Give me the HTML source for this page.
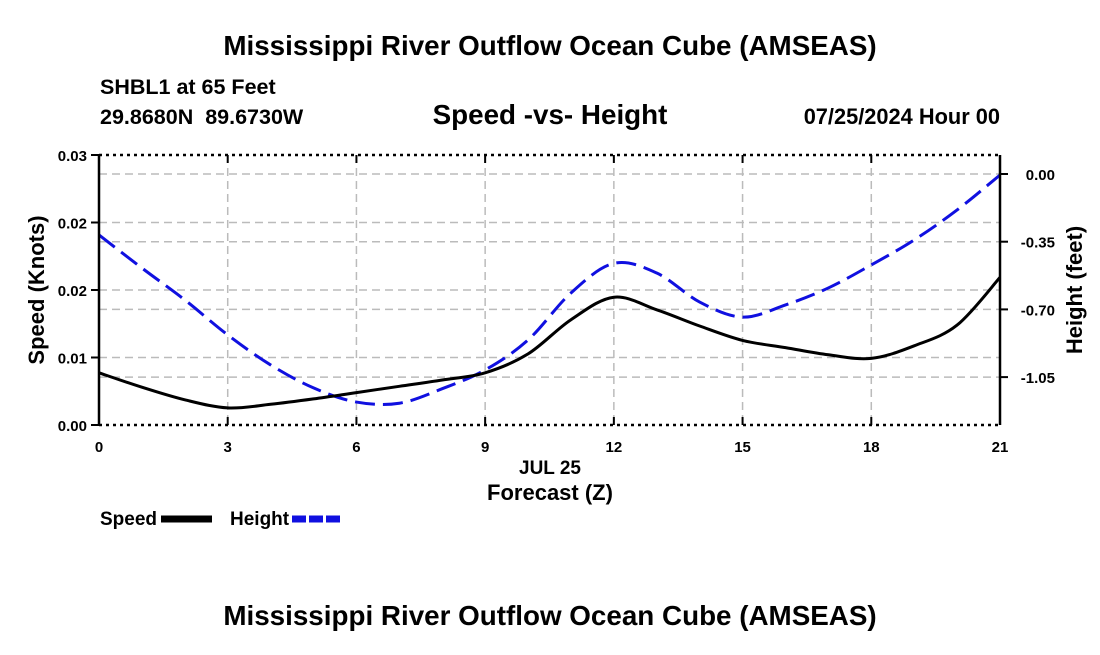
<!DOCTYPE html>
<html><head><meta charset="utf-8"><style>
body{margin:0;background:#fff;}
svg text{font-family:"Liberation Sans",sans-serif;font-weight:bold;fill:#000;}
</style></head><body>
<svg id="c" width="1100" height="650" xmlns="http://www.w3.org/2000/svg">
<text x="550" y="55" font-size="27.8" text-anchor="middle">Mississippi River Outflow Ocean Cube (AMSEAS)</text>
<text x="100" y="94" font-size="21.5">SHBL1 at 65 Feet</text>
<text x="100" y="124" font-size="21.5">29.8680N&#160;&#160;89.6730W</text>
<text x="550" y="124" font-size="27.8" text-anchor="middle">Speed -vs- Height</text>
<text x="1000" y="124" font-size="21.8" text-anchor="end">07/25/2024 Hour 00</text>
<g id="grid"></g>
<g id="marks"></g>
<g id="axes"></g>
<text x="550" y="474" font-size="19" text-anchor="middle">JUL 25</text>
<text x="550" y="500" font-size="22" text-anchor="middle">Forecast (Z)</text>
<text transform="translate(44,290) rotate(-90)" font-size="22" text-anchor="middle">Speed (Knots)</text>
<text transform="translate(1082,290) rotate(-90)" font-size="22" text-anchor="middle">Height (feet)</text>
<g>
<text x="100" y="525" font-size="19">Speed</text>
<line x1="161" y1="519" x2="212" y2="519" stroke="#000" stroke-width="7"/>
<text x="230" y="525" font-size="19">Height</text>
<line x1="292" y1="519" x2="342" y2="519" stroke="#1010e0" stroke-width="7" stroke-dasharray="14,3"/>
</g>
<text x="550" y="625" font-size="27.8" text-anchor="middle">Mississippi River Outflow Ocean Cube (AMSEAS)</text>
</svg>
<script>
const hours=[0,1,2,3,4,5,6,7,8,9,10,11,12,13,14,15,16,17,18,19,20,21];
const speed=[0.0058,0.0042,0.0028,0.0019,0.0023,0.0029,0.0036,0.0043,0.0050,0.0058,0.0079,0.0117,0.0142,0.0128,0.0110,0.0094,0.0086,0.0078,0.0074,0.0088,0.0111,0.0164];
const height=[-0.315,-0.486,-0.651,-0.832,-0.987,-1.106,-1.179,-1.185,-1.110,-1.013,-0.858,-0.615,-0.462,-0.512,-0.662,-0.740,-0.677,-0.589,-0.470,-0.341,-0.186,-0.005];
const xTicks=[0,3,6,9,12,15,18,21];
const leftTicks=[0,0.0075,0.015,0.0225,0.03];
const leftLabels=["0.00","0.01","0.02","0.02","0.03"];
const rightTicks=[0,-0.35,-0.70,-1.05];
const rightLabels=["0.00","-0.35","-0.70","-1.05"];
const L=99,R=1000,T=155,B=425;
const X=h=>L+(h-0)/21*(R-L);
const Y1=v=>B-(v/0.03)*(B-T);
function Yh(v){return 174+(-v)/0.35*67.7;}
const NS="http://www.w3.org/2000/svg";
function mk(p,tag,a){const e=document.createElementNS(NS,tag);for(const k in a)e.setAttribute(k,a[k]);p.appendChild(e);return e;}
const grid=document.getElementById('grid'),marks=document.getElementById('marks'),axes=document.getElementById('axes');
xTicks.forEach(h=>{if(h>0&&h<21){const l=mk(grid,'line',{x1:X(h),x2:X(h),y1:T,y2:B,stroke:'#bbb','stroke-width':1.5,'stroke-dasharray':'8,5'});

}});
leftTicks.forEach(v=>{if(v>0&&v<0.03){const l=mk(grid,'line',{x1:L,x2:R,y1:Y1(v),y2:Y1(v),stroke:'#bbb','stroke-width':1.5,'stroke-dasharray':'8,5'});

}});
rightTicks.forEach(v=>{const l=mk(grid,'line',{x1:L,x2:R,y1:Yh(v),y2:Yh(v),stroke:'#bbb','stroke-width':1.5,'stroke-dasharray':'8,5'});

});
function smooth(pts){let d='M'+pts[0][0]+','+pts[0][1];for(let i=0;i<pts.length-1;i++){const p0=pts[i-1]||pts[i],p1=pts[i],p2=pts[i+1],p3=pts[i+2]||p2;
d+=' C'+(p1[0]+(p2[0]-p0[0])/6)+','+(p1[1]+(p2[1]-p0[1])/6)+' '+(p2[0]-(p3[0]-p1[0])/6)+','+(p2[1]-(p3[1]-p1[1])/6)+' '+p2[0]+','+p2[1];}return d;}
const hp=mk(marks,'path',{d:smooth(hours.map((h,i)=>[X(h),Yh(height[i])])),fill:'none',stroke:'#1010e0','stroke-width':3,'stroke-dasharray':'20,8'});


const sp=mk(marks,'path',{d:smooth(hours.map((h,i)=>[X(h),Y1(speed[i])])),fill:'none',stroke:'#000','stroke-width':3});


[[L,T,R,T],[L,B,R,B]].forEach(s=>{const l=mk(axes,'line',{x1:s[0],y1:s[1],x2:s[2],y2:s[3],stroke:'#000','stroke-width':2.5,'stroke-dasharray':'3,4'});

});
const la=mk(axes,'line',{x1:L,y1:T,x2:L,y2:B,stroke:'#000','stroke-width':2.5});


const ra=mk(axes,'line',{x1:R,y1:T,x2:R,y2:B,stroke:'#000','stroke-width':2.5});


xTicks.forEach(h=>{const t=mk(axes,'text',{x:X(h),y:452,'font-size':15,'text-anchor':'middle'});t.textContent=h;


mk(axes,'line',{x1:X(h),x2:X(h),y1:B,y2:B-8,stroke:'#000','stroke-width':2});
mk(axes,'line',{x1:X(h),x2:X(h),y1:T,y2:T+8,stroke:'#000','stroke-width':2});});
leftTicks.forEach((v,i)=>{const t=mk(axes,'text',{x:87,y:Y1(v)+6,'font-size':15,'text-anchor':'end'});t.textContent=leftLabels[i];


mk(axes,'line',{x1:L-8,x2:L,y1:Y1(v),y2:Y1(v),stroke:'#000','stroke-width':2});});
rightTicks.forEach((v,i)=>{const t=mk(axes,'text',{x:1055,y:Yh(v)+6,'font-size':15,'text-anchor':'end'});t.textContent=rightLabels[i];


mk(axes,'line',{x1:R,x2:R+8,y1:Yh(v),y2:Yh(v),stroke:'#000','stroke-width':2});});
</script>
</body></html>
